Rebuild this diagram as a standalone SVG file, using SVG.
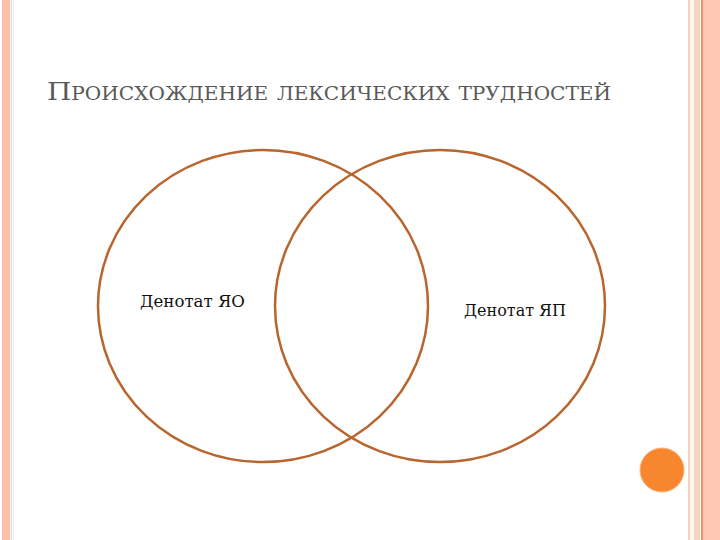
<svg xmlns="http://www.w3.org/2000/svg" width="720" height="540" viewBox="0 0 720 540">
<style>
.ring{fill:none;stroke:#B8652E;stroke-width:2.5}
.lbl{font-family:"DejaVu Serif",serif;font-size:16.5px;fill:#111}
.title{font-family:"DejaVu Serif",serif;font-size:25px;fill:#595959;font-variant:small-caps}
</style>
<rect width="720" height="540" fill="#fff"/>
<g id="frame">
<rect x="2" y="0" width="8" height="540" fill="#FFBFA6"/>
<rect x="11" y="0" width="1" height="540" fill="#F3D2C2"/>
<rect x="13" y="0" width="1" height="540" fill="#EEE4F0"/>
<rect x="688" y="0" width="2" height="540" fill="#EDD3C6"/>
<rect x="690" y="0" width="4" height="540" fill="#FFF6EA"/>
<rect x="694" y="0" width="6" height="540" fill="#F6D4C4"/>
<rect x="701" y="0" width="2" height="540" fill="#F08F6C"/>
<rect x="703" y="0" width="17" height="540" fill="#FFC7B2"/>
<circle cx="662" cy="470" r="22" fill="#F7862E" stroke="#F8B27A" stroke-width="1"/>
</g>
<g id="title"><text class="title" x="47" y="100" textLength="564" lengthAdjust="spacingAndGlyphs">Происхождение лексических трудностей</text></g>
<g id="left"><ellipse class="ring" cx="263" cy="306" rx="165" ry="156"/><text class="lbl" x="140" y="307" textLength="105" lengthAdjust="spacingAndGlyphs">Денотат ЯО</text></g>
<g id="right"><ellipse class="ring" cx="440" cy="306" rx="165" ry="156"/><text class="lbl" x="464" y="316" textLength="102" lengthAdjust="spacingAndGlyphs">Денотат ЯП</text></g>
<g id="connectors"/>
</svg>
